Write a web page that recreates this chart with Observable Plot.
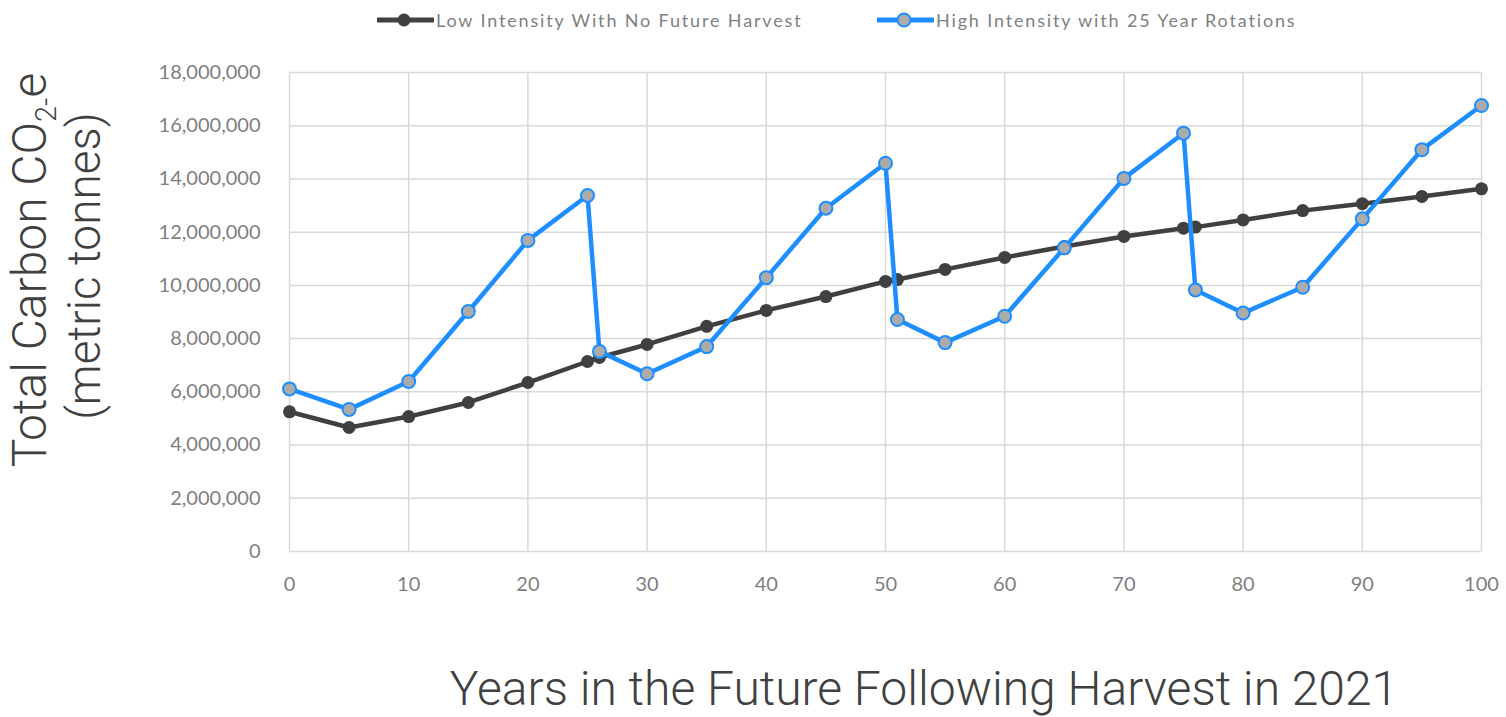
<!DOCTYPE html>
<html>
<head>
<meta charset="utf-8">
<script src="https://cdn.jsdelivr.net/npm/d3@7"></script>
<script src="https://cdn.jsdelivr.net/npm/@observablehq/plot@0.6"></script>
<style>
  body { margin: 0; background: #fff; width: 1506px; height: 717px; overflow: hidden; }
  #legend { position: relative; height: 40px; width: 1506px; font-family: Lato, "Liberation Sans", sans-serif; font-size: 18px; color: #7f7f7f; letter-spacing: 1.85px; }
  .item { position: absolute; top: 0; height: 40px; display: flex; align-items: center; }
  .item svg { display: block; }
  .item span { white-space: nowrap; }
</style>
</head>
<body>
<div id="legend"></div>
<div id="chart"></div>
<script>
const seriesNames = ["Low Intensity With No Future Harvest", "High Intensity with 25 Year Rotations"];
const years = [0, 5, 10, 15, 20, 25, 26, 30, 35, 40, 45, 50, 51, 55, 60, 65, 70, 75, 76, 80, 85, 90, 95, 100];
const lowIntensity = [5250000, 4660000, 5070000, 5600000, 6350000, 7140000, 7290000, 7780000, 8460000, 9060000, 9580000, 10150000, 10220000, 10600000, 11050000, 11460000, 11840000, 12150000, 12190000, 12460000, 12810000, 13070000, 13340000, 13630000];
const highIntensity = [6110000, 5340000, 6390000, 9020000, 11690000, 13380000, 7520000, 6680000, 7700000, 10290000, 12900000, 14590000, 8720000, 7850000, 8840000, 11410000, 14020000, 15720000, 9830000, 8960000, 9930000, 12500000, 15100000, 16760000];
const xTicks = [0, 10, 20, 30, 40, 50, 60, 70, 80, 90, 100];
const yTicks = [0, 2000000, 4000000, 6000000, 8000000, 10000000, 12000000, 14000000, 16000000, 18000000];
const yTitle = ["Total Carbon CO", "2-", "e"];
const yTitle2 = "(metric tonnes)";
const xTitle = "Years in the Future Following Harvest in 2021";

const darkColor = "#404040";
const blueColor = "#1E8EFF";
const markerGray = "#ABABAB";

const low = years.map((y, i) => ({year: y, value: lowIntensity[i]}));
const high = years.map((y, i) => ({year: y, value: highIntensity[i]}));

// Legend
const legend = d3.select("#legend");
const legendItems = [
  {name: seriesNames[0], left: 377, stroke: darkColor, fill: darkColor, sw: 0},
  {name: seriesNames[1], left: 877, stroke: blueColor, fill: markerGray, sw: 2}
];
for (const it of legendItems) {
  const div = legend.append("div").attr("class", "item").style("left", it.left + "px");
  const s = div.append("svg").attr("width", 57).attr("height", 20);
  s.append("line").attr("x1", 0).attr("x2", 56).attr("y1", 10).attr("y2", 10)
    .attr("stroke", it.stroke).attr("stroke-width", 5).attr("stroke-linecap", "round");
  s.append("circle").attr("cx", 27).attr("cy", 10).attr("r", 6.5)
    .attr("fill", it.fill).attr("stroke", it.sw ? it.stroke : "none").attr("stroke-width", it.sw);
  div.append("span").style("margin-left", "2px").text(it.name);
}

const chart = Plot.plot({
  width: 1506,
  height: 677,
  marginLeft: 289,
  marginRight: 25,
  marginTop: 32,
  marginBottom: 166,
  style: {fontFamily: "Lato, 'Liberation Sans', sans-serif", fontSize: "20px", color: "#7f7f7f", background: "#fff"},
  x: {domain: [0, 100]},
  y: {domain: [0, 18000000]},
  marks: [
    Plot.ruleX(xTicks, {stroke: "#d9d9d9", strokeWidth: 1.5}),
    Plot.ruleY(yTicks, {stroke: "#d9d9d9", strokeWidth: 1.5}),
    Plot.axisX({ticks: xTicks, tickSize: 0, tickPadding: 25, label: null, fontSize: 20}),
    Plot.axisY({ticks: yTicks, tickSize: 0, tickPadding: 29, label: null, tickFormat: d3.format(","), fontSize: 20}),
    Plot.line(low, {x: "year", y: "value", stroke: darkColor, strokeWidth: 4.5}),
    Plot.dot(low, {x: "year", y: "value", r: 6.5, fill: darkColor, stroke: "none"}),
    Plot.line(high, {x: "year", y: "value", stroke: blueColor, strokeWidth: 4.5}),
    Plot.dot(high, {x: "year", y: "value", r: 6.5, fill: markerGray, stroke: blueColor, strokeWidth: 2})
  ]
});
document.getElementById("chart").appendChild(chart);

const svg = d3.select(chart);
const t1 = svg.append("text")
  .attr("transform", "translate(46,230) rotate(-90)")
  .attr("text-anchor", "middle")
  .style("font-family", "Roboto, 'Liberation Sans', sans-serif")
  .style("font-weight", 300)
  .style("font-size", "48px")
  .attr("fill", darkColor);
t1.append("tspan").text(yTitle[0]);
t1.append("tspan").attr("dy", 10).style("font-size", "29px").text(yTitle[1]);
t1.append("tspan").attr("dy", -10).text(yTitle[2]);

svg.append("text")
  .attr("transform", "translate(100,226) rotate(-90)")
  .attr("text-anchor", "middle")
  .style("font-family", "Roboto, 'Liberation Sans', sans-serif")
  .style("font-weight", 300)
  .style("font-size", "46px")
  .attr("fill", darkColor)
  .text(yTitle2);

svg.append("text")
  .attr("x", 924)
  .attr("y", 665)
  .attr("text-anchor", "middle")
  .style("font-family", "Roboto, 'Liberation Sans', sans-serif")
  .style("font-weight", 300)
  .style("font-size", "48px")
  .attr("fill", darkColor)
  .text(xTitle);
</script>
</body>
</html>
